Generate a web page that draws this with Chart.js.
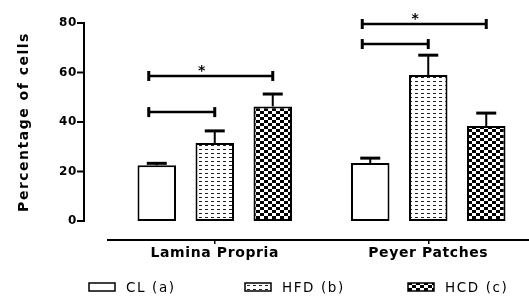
<!DOCTYPE html>
<html><head><meta charset="utf-8">
<script src="https://cdn.jsdelivr.net/npm/chart.js@4.4.0/dist/chart.umd.min.js"></script>
<style>html,body{margin:0;padding:0;background:#fff;overflow:hidden;width:529px;height:298px}canvas{display:block}</style>
</head><body>
<canvas id="c" width="535" height="298"></canvas>
<script>
const categories = ['Lamina Propria', 'Peyer Patches'];
const seriesLabels = ['CL (a)', 'HFD (b)', 'HCD (c)'];
const clMeans = [22.5, 23.4];
const clUpper = [23.3, 25.4];
const hfdMeans = [31.5, 59.0];
const hfdUpper = [36.4, 67.0];
const hcdMeans = [46.3, 38.4];
const hcdUpper = [51.3, 43.6];
const yTickValues = [0, 20, 40, 60, 80];
const yAxisTitle = 'Percentage of cells';
const bracketCategory = [0, 0, 1, 1];
const bracketFrom = [0, 0, 0, 0];
const bracketTo = [2, 1, 2, 1];
const bracketLevel = [58.6, 44.0, 79.6, 71.5];
const bracketMark = ['*', '', '*', ''];

const FAMILY = '"DejaVu Sans", Verdana, sans-serif';

function makePattern(kind) {
  const c = document.createElement('canvas');
  const g = c.getContext('2d');
  if (kind === 'none') { return '#ffffff'; }
  if (kind === 'dots') {
    c.width = 6; c.height = 4;
    g.fillStyle = '#fff'; g.fillRect(0, 0, 6, 4);
    g.fillStyle = '#222'; g.fillRect(1, 1, 3, 1);
  } else {
    c.width = 8; c.height = 6;
    g.fillStyle = '#fff'; g.fillRect(0, 0, 8, 6);
    g.fillStyle = '#000'; g.fillRect(0, 0, 4, 3); g.fillRect(4, 3, 4, 3);
  }
  return g.createPattern(c, 'repeat');
}
const fills = [makePattern('none'), makePattern('dots'), makePattern('check')];
const means = [clMeans, hfdMeans, hcdMeans];
const uppers = [clUpper, hfdUpper, hcdUpper];

const spacingPlugin = {
  id: 'spacing',
  beforeLayout(chart) { chart.ctx.letterSpacing = '0.6px'; },
  beforeDraw(chart) { chart.ctx.letterSpacing = '0.6px'; }
};

const decorPlugin = {
  id: 'decor',
  afterDatasetsDraw(chart) {
    const ctx = chart.ctx, ys = chart.scales.y, xs = chart.scales.x;
    ctx.save();
    ctx.strokeStyle = '#000'; ctx.fillStyle = '#000';
    const ax = xs.left - 24;
    ctx.lineWidth = 2;
    ctx.lineCap = 'square';
    ctx.beginPath();
    ctx.moveTo(ax, ys.getPixelForValue(yTickValues[0]));
    ctx.lineTo(ax, ys.getPixelForValue(yTickValues[yTickValues.length - 1]));
    ctx.stroke();
    ctx.lineCap = 'butt';
    yTickValues.forEach(v => {
      const py = ys.getPixelForValue(v);
      ctx.beginPath(); ctx.moveTo(ax - 7, py); ctx.lineTo(ax, py); ctx.stroke();
    });
    means.forEach((arr, i) => {
      const meta = chart.getDatasetMeta(i);
      arr.forEach((m, j) => {
        const bx = meta.data[j].x;
        const top = ys.getPixelForValue(m);
        const up = ys.getPixelForValue(uppers[i][j]);
        ctx.lineWidth = 2;
        ctx.beginPath(); ctx.moveTo(bx, top); ctx.lineTo(bx, up); ctx.stroke();
        ctx.lineWidth = 3;
        ctx.beginPath(); ctx.moveTo(bx - 10, up); ctx.lineTo(bx + 10, up); ctx.stroke();
      });
    });
    bracketLevel.forEach((lv, k) => {
      const c = bracketCategory[k];
      const x1 = chart.getDatasetMeta(bracketFrom[k]).data[c].x - 8;
      const x2 = chart.getDatasetMeta(bracketTo[k]).data[c].x;
      const py = ys.getPixelForValue(lv);
      ctx.lineWidth = 2.5;
      ctx.beginPath(); ctx.moveTo(x1, py); ctx.lineTo(x2, py); ctx.stroke();
      ctx.lineWidth = 3;
      [x1, x2].forEach(xx => { ctx.beginPath(); ctx.moveTo(xx, py - 5); ctx.lineTo(xx, py + 5); ctx.stroke(); });
      if (bracketMark[k]) {
        ctx.letterSpacing = '0px';
        ctx.font = 'bold 14px ' + FAMILY;
        ctx.textAlign = 'center'; ctx.textBaseline = 'alphabetic';
        ctx.fillText(bracketMark[k], (x1 + x2) / 2 - 9, py - 1);
      }
    });
    ctx.restore();
  },
  afterDraw(chart) {
    const ctx = chart.ctx, ys = chart.scales.y;
    ctx.save();
    ctx.fillStyle = '#000'; ctx.strokeStyle = '#000';
    ctx.translate(24, ys.getPixelForValue((yTickValues[0] + yTickValues[yTickValues.length - 1]) / 2));
    ctx.rotate(-Math.PI / 2);
    ctx.font = 'bold 14px ' + FAMILY;
    ctx.letterSpacing = '1.5px';
    ctx.textAlign = 'center'; ctx.textBaseline = 'middle';
    ctx.fillText(yAxisTitle, 0, 0);
    ctx.restore();
    ctx.save();
    const boxX = [89, 245, 408];
    ctx.font = '13.5px ' + FAMILY;
    ctx.letterSpacing = '1.6px';
    ctx.textAlign = 'left'; ctx.textBaseline = 'middle';
    seriesLabels.forEach((lab, i) => {
      ctx.fillStyle = fills[i];
      ctx.fillRect(boxX[i], 283, 26, 8);
      ctx.lineWidth = 1.5; ctx.strokeStyle = '#000';
      ctx.strokeRect(boxX[i], 283, 26, 8);
      ctx.fillStyle = '#000';
      ctx.fillText(lab, boxX[i] + 37, 288);
    });
    ctx.restore();
  }
};

new Chart(document.getElementById('c'), {
  type: 'bar',
  data: {
    labels: categories,
    datasets: seriesLabels.map((lab, i) => ({
      label: lab,
      data: means[i],
      backgroundColor: fills[i],
      borderColor: '#000',
      borderWidth: 2,
      borderSkipped: false,
      categoryPercentage: 0.815,
      barPercentage: 0.664
    }))
  },
  options: {
    responsive: false,
    animation: false,
    devicePixelRatio: 1,
    layout: { padding: { top: 23, left: 0, right: 0, bottom: 0 } },
    plugins: { legend: { display: false }, tooltip: { enabled: false } },
    scales: {
      x: {
        offset: true,
        grid: { display: true, drawOnChartArea: false, offset: false, tickLength: 4, color: '#000', lineWidth: 1.5 },
        border: { display: true, color: '#000', width: 2 },
        ticks: { padding: 1, color: '#000', font: { family: FAMILY, size: 14, weight: 'bold' } },
        afterFit: s => { s.height = 58; }
      },
      y: {
        min: -7.68, max: 80,
        grid: { display: false, drawTicks: false },
        border: { display: false },
        afterBuildTicks: s => { s.ticks = yTickValues.map(v => ({ value: v })); },
        afterFit: s => { s.width = 108; s.paddingTop = 0; s.paddingBottom = 0; },
        ticks: { padding: 31, color: '#000', font: { family: FAMILY, size: 12, weight: 'bold' } }
      }
    }
  },
  plugins: [spacingPlugin, decorPlugin]
});
</script>
</body></html>
